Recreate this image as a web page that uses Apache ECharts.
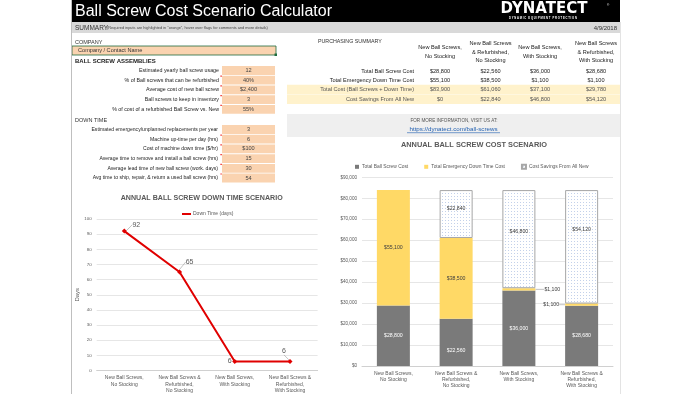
<!DOCTYPE html>
<html><head><meta charset="utf-8">
<script src="https://cdn.jsdelivr.net/npm/echarts@6/dist/echarts.min.js"></script>
<style>html,body{margin:0;padding:0;background:#fff}#c{width:700px;height:394px}</style>
</head><body><div id="c"></div><script>
// ---------- data ----------
const categories = ['New Ball Screws,\nNo Stocking', 'New Ball Screws &\nRefurbished,\nNo Stocking', 'New Ball Screws,\nWith Stocking', 'New Ball Screws &\nRefurbished,\nWith Stocking'];
const headerCategories = ['New Ball Screws,\nNo Stocking', 'New Ball Screws\n& Refurbished,\nNo Stocking', 'New Ball Screws,\nWith Stocking', 'New Ball Screws\n& Refurbished,\nWith Stocking'];
const downTimeDays = [92, 65, 6, 6];
const ballScrewCost = [28800, 22560, 36000, 28680];
const emergencyDownTimeCost = [55100, 38500, 1100, 1100];
const costSavings = [0, 22840, 46800, 54120];
const totalCost = [83900, 61060, 37100, 29780];
const summaryRowLabels = ['Total Ball Screw Cost', 'Total Emergency Down Time Cost', 'Total Cost (Ball Screws + Down Time)', 'Cost Savings From All New'];
const assemblyLabels = ['Estimated yearly ball screw usage', '% of Ball screws that can be refurbished', 'Average cost of new ball screw', 'Ball screws to keep in inventory', '% of cost of a refurbished Ball Screw vs. New'];
const assemblyValues = ['12', '40%', '$2,400', '3', '55%'];
const downTimeLabels = ['Estimated emergency/unplanned replacements per year', 'Machine up-time per day (hrs)', 'Cost of machine down time ($/hr)', 'Average time to remove and install a ball screw (hrs)', 'Average lead time of new ball screw (work. days)', 'Avg time to ship, repair, & return a used ball screw (hrs)'];
const downTimeValues = ['3', '6', '$100', '15', '30', '54'];
const seriesNames = ['Total Ball Screw Cost', 'Total Emergency Down Time Cost', 'Cost Savings From All New'];

// ---------- helpers ----------
const F = '"Liberation Sans", Arial, sans-serif';
const money = v => '$' + v.toLocaleString('en-US');
const G = [];
function txt(x, y, text, size, opt) {
  opt = opt || {};
  G.push({type: 'text', z: 10, style: {x: x, y: y, text: text, fill: opt.color || '#222',
    font: (opt.bold ? 'bold ' : '') + size + 'px ' + (opt.family || F),
    textAlign: opt.align || 'left', textVerticalAlign: 'middle', lineHeight: opt.lh || size * 1.2}});
}
function rect(x, y, w, h, fill, stroke, lw) {
  G.push({type: 'rect', z: 1, shape: {x: x, y: y, width: w, height: h},
    style: {fill: fill, stroke: stroke || null, lineWidth: lw || 0}});
}
function line(x1, y1, x2, y2, color, w) {
  G.push({type: 'line', z: 2, shape: {x1: x1, y1: y1, x2: x2, y2: y2}, style: {stroke: color, lineWidth: w || 1}});
}

// frame
rect(71, 0, 549, 22, '#000');
line(71.5, 0, 71.5, 394, '#bfbfbf', 1);
line(620.5, 22, 620.5, 394, '#e3e3e3', 1);
txt(75, 11.5, 'Ball Screw Cost Scenario Calculator', 16, {color: '#fff'});
txt(544, 9.5, 'DYNATECT', 15, {color: '#fff', bold: true, align: 'center', family: '"DejaVu Sans", sans-serif'});
txt(607, 5, '®', 3, {color: '#fff'});
txt(543, 18, 'D Y N A M I C   E Q U I P M E N T   P R O T E C T I O N', 2.7, {color: '#fff', align: 'center', bold: true});
rect(72, 22, 548, 11, '#d9d9d9');
txt(75, 27.8, 'SUMMARY', 6.5, {color: '#333'});
txt(107, 28, '(Required inputs are highlighted in "orange", hover over flags for comments and more details)', 3.9, {color: '#444'});
txt(617, 28, '4/9/2018', 6, {color: '#333', align: 'right'});

// company
txt(75, 42, 'COMPANY', 5.5, {color: '#333'});
rect(72, 46, 204, 9, '#fad3b0', '#1e6b3c', 0.8);
rect(274.5, 53.5, 2.5, 2.5, '#1e6b3c');
txt(78, 50.7, 'Company / Contact Name', 5.6, {color: '#333'});
txt(75, 61.5, 'BALL SCREW ASSEMBLIES', 6, {bold: true, color: '#222'});
assemblyLabels.forEach((l, i) => {
  const y = 70.5 + i * 9.7;
  txt(219, y, l, 5.3, {align: 'right'});
  rect(222, y - 4.4, 53, 8.8, '#fad3b0');
  if (i > 0) rect(220.5, y - 4.6, 1.2, 1.2, '#e00');
  txt(248.5, y, assemblyValues[i], 5.6, {align: 'center', color: '#444'});
});
txt(75, 120, 'DOWN TIME', 5.5, {color: '#333'});
downTimeLabels.forEach((l, i) => {
  const y = 129.5 + i * 9.7;
  txt(218, y, l, 5.1, {align: 'right'});
  rect(222, y - 4.4, 53, 8.8, '#fad3b0');
  if (i > 0) rect(220.5, y - 4.6, 1.2, 1.2, '#e00');
  txt(248.5, y, downTimeValues[i], 5.6, {align: 'center', color: '#444'});
});

// purchasing summary table
txt(318, 42, 'PURCHASING SUMMARY', 5.3, {color: '#333'});
const colX = [440, 490.5, 540, 596];
headerCategories.forEach((h, i) => txt(colX[i], 52, h, 5.6, {align: 'center', lh: 8.4}));
rect(287, 84.8, 333, 9.4, '#fff2cc');
rect(287, 94.6, 333, 9.4, '#fff2cc');
const rowY = [71, 80.2, 89.5, 99.3];
const rowVals = [ballScrewCost, emergencyDownTimeCost, totalCost, costSavings];
summaryRowLabels.forEach((l, r) => {
  const hl = r >= 2;
  txt(414, rowY[r], l, 5.6, {align: 'right', color: hl ? '#555' : '#222'});
  rowVals[r].forEach((v, i) => txt(colX[i], rowY[r], money(v), 5.6, {align: 'center', color: hl ? '#555' : '#222'}));
});
rect(287, 114, 333, 23, '#efefef');
txt(454, 121, 'FOR MORE INFORMATION, VISIT US AT:', 4.6, {align: 'center', color: '#555'});
txt(453.5, 129, 'https://dynatect.com/ball-screws', 6.2, {align: 'center', color: '#1f5eb0'});
line(407, 132.7, 500, 132.7, '#1f5eb0', 0.6);

// chart titles
txt(201.7, 198, 'ANNUAL BALL SCREW DOWN TIME SCENARIO', 7.1, {bold: true, align: 'center', color: '#595959'});
txt(474, 145, 'ANNUAL BALL SCREW COST SCENARIO', 7.4, {bold: true, align: 'center', color: '#595959'});

// dotted pattern for savings
const tile = document.createElement('canvas');
tile.width = 3; tile.height = 3;
(function () {
  const g = tile.getContext('2d');
  g.fillStyle = '#ffffff'; g.fillRect(0, 0, 3, 3);
  g.fillStyle = '#c3d1ea'; g.fillRect(1, 1, 1, 1);
})();
const patternFill = {image: tile, repeat: 'repeat'};

const grayOff = [0, 8, 0, 0];
const yellowOff = [-11, 0, 0, 0];
const saveOff = [0, -5, -8, -17];

const axisLbl = {color: '#595959', fontSize: 5, fontFamily: F};
const option = {
  animation: false,
  backgroundColor: '#fff',
  textStyle: {fontFamily: F},
  graphic: G,
  legend: [
    {data: ['Down Time (days)'], left: 177, top: 206.5, itemWidth: 9, itemHeight: 2, icon: 'rect', itemGap: 5,
      textStyle: {fontSize: 5, color: '#595959', padding: [0, 0, 0, -3]}},
    {data: seriesNames, left: 350, top: 158.8, itemWidth: 4, itemHeight: 4, itemGap: 16, icon: 'rect',
      textStyle: {fontSize: 4.9, color: '#595959', padding: [0, 0, 0, -2]}}
  ],
  grid: [
    {left: 96.7, right: 700 - 317.6, top: 219, bottom: 394 - 371.3},
    {left: 362, right: 700 - 613, top: 177.3, bottom: 394 - 366}
  ],
  xAxis: [
    {type: 'category', gridIndex: 0, data: categories, axisTick: {show: false},
      axisLine: {lineStyle: {color: '#d0d0d0'}}, axisLabel: Object.assign({margin: 4, lineHeight: 6.5, interval: 0}, axisLbl)},
    {type: 'category', gridIndex: 1, data: categories, axisTick: {show: false},
      axisLine: {lineStyle: {color: '#d0d0d0'}}, axisLabel: Object.assign({margin: 4, lineHeight: 6.4, interval: 0}, axisLbl)}
  ],
  yAxis: [
    {type: 'value', gridIndex: 0, min: 0, max: 100, interval: 10, name: 'Days', nameLocation: 'middle', nameGap: 15,
      nameRotate: 90, nameTextStyle: {fontSize: 6, color: '#595959'},
      splitLine: {lineStyle: {color: '#e0e0e0', width: 0.8}}, axisLabel: Object.assign({margin: 5}, axisLbl, {fontSize: 4.4})},
    {type: 'value', gridIndex: 1, min: 0, max: 90000, interval: 10000,
      splitLine: {lineStyle: {color: '#e0e0e0', width: 0.8}},
      axisLabel: Object.assign({margin: 5, formatter: v => money(v)}, axisLbl, {fontSize: 4.6})}
  ],
  series: [
    {type: 'line', name: 'Down Time (days)', xAxisIndex: 0, yAxisIndex: 0, data: downTimeDays,
      symbol: 'diamond', symbolSize: 5, lineStyle: {color: '#e00000', width: 2}, itemStyle: {color: '#e00000'},
      label: {show: true, position: 'top', fontSize: 7, color: '#595959'},
      labelLine: {show: true, lineStyle: {color: '#9a9a9a', width: 0.6}},
      labelLayout: p => {
        const s = [[12, 4.5], [10, 1], [-5, 11], [-6, 1]][p.dataIndex];
        return {dx: s[0], dy: s[1]};
      }},
    {type: 'bar', name: seriesNames[0], xAxisIndex: 1, yAxisIndex: 1, stack: 'cost', barWidth: 33,
      itemStyle: {color: '#7a7a7a'},
      data: ballScrewCost.map((v, i) => ({value: v, label: {offset: [0, grayOff[i]]}})),
      label: {show: true, position: 'inside', color: '#fff', fontSize: 5.2, formatter: p => money(p.value)}},
    {type: 'bar', name: seriesNames[1], xAxisIndex: 1, yAxisIndex: 1, stack: 'cost', barWidth: 33,
      itemStyle: {color: '#ffd966'},
      data: emergencyDownTimeCost.map((v, i) => {
        const small = v < 5000;
        return {value: v, label: small ? {position: i === 2 ? 'right' : 'left', distance: 3} : {offset: [0, yellowOff[i]]}};
      }),
      label: {show: true, position: 'inside', color: '#404040', fontSize: 5.2, formatter: p => money(p.value)},
      labelLine: {show: true, lineStyle: {color: '#9a9a9a', width: 0.6}},
      labelLayout: p => {
        if (p.dataIndex === 2) return {dx: 6};
        if (p.dataIndex === 3) return {dx: -3};
        return {};
      }},
    {type: 'bar', name: seriesNames[2], xAxisIndex: 1, yAxisIndex: 1, stack: 'cost', barWidth: 33,
      itemStyle: {color: patternFill, borderColor: '#a6a6a6', borderWidth: 1},
      data: costSavings.map((v, i) => v === 0
        ? {value: v, itemStyle: {borderWidth: 0}, label: {show: false}}
        : {value: v, label: {offset: [0, saveOff[i]]}}),
      label: {show: true, position: 'inside', color: '#404040', fontSize: 5.2, formatter: p => money(p.value)}}
  ]
};
echarts.init(document.getElementById('c')).setOption(option);
</script></body></html>
